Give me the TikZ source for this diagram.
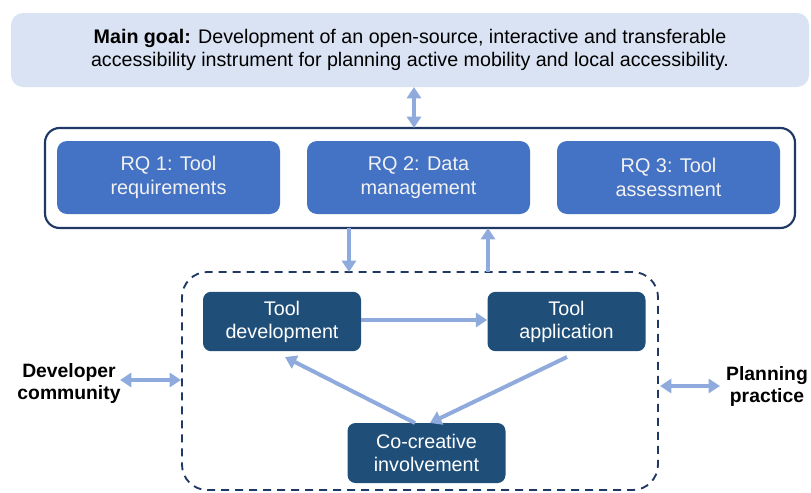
\documentclass[tikz,border=0pt]{standalone}
\usepackage{fontspec}
\setmainfont{Liberation Sans}
\usetikzlibrary{arrows.meta}
\definecolor{topfill}{HTML}{DAE3F3}
\definecolor{rqfill}{HTML}{4472C4}
\definecolor{navy}{HTML}{203864}
\definecolor{darkbox}{HTML}{1F4E79}
\definecolor{arrowc}{HTML}{8FAADC}
\definecolor{rqtext}{HTML}{F2F2F2}
\tikzset{
  goalbox/.style={fill=topfill, rounded corners=9pt, minimum width=598.5pt, minimum height=55.5pt, align=center, font=\fontsize{14.75pt}{17.25pt}\selectfont, inner sep=0pt},
  rqframe/.style={draw=navy, line width=1.6pt, rounded corners=11pt, minimum width=562.5pt, minimum height=75pt, inner sep=0pt},
  rqbox/.style={fill=rqfill, rounded corners=7.5pt, minimum width=167.25pt, minimum height=54.75pt, align=center, text=rqtext, font=\fontsize{14.9pt}{18pt}\selectfont, inner sep=0pt},
  dashframe/.style={draw=navy, line width=1.4pt, dash pattern=on 6pt off 4.5pt, rounded corners=19pt, minimum width=357pt, minimum height=163.5pt, inner sep=0pt},
  stagebox/.style={fill=darkbox, rounded corners=6pt, minimum width=118.5pt, minimum height=44.5pt, align=center, text=white, font=\fontsize{14.8pt}{17.25pt}\selectfont, inner sep=0pt},
  sidelabel/.style={align=center, font=\bfseries\fontsize{14.5pt}{16.5pt}\selectfont, inner sep=0pt},
  flow/.style={draw=arrowc, line width=3pt, -{Triangle[width=10.5pt,length=8.5pt]}},
  flowboth/.style={draw=arrowc, line width=3pt, {Triangle[width=10.5pt,length=8.5pt]}-{Triangle[width=10.5pt,length=8.5pt]}},
}
\begin{document}
\begin{tikzpicture}[x=0.75pt,y=-0.75pt]
\useasboundingbox (0,0) rectangle (811,493);
\node[goalbox] (goal) at (410,50) {\textbf{Main goal:} Development of an open-source, interactive and transferable\\accessibility instrument for planning active mobility and local accessibility.};
\node[rqframe] (frame) at (420,178) {};
\node[rqbox] (rq1) at (168.5,177.5) {RQ 1: Tool\\requirements};
\node[rqbox] (rq2) at (418.5,177.5) {RQ 2: Data\\management};
\node[rqbox] (rq3) at (668.5,177.5) {RQ 3: Tool\\assessment};
\node[dashframe] (dash) at (420,381) {};
\node[stagebox] (dev) at (282,321.5) {Tool\\development};
\node[stagebox] (app) at (566.5,321.5) {Tool\\application};
\node[stagebox, minimum height=45pt] (co) at (426.5,453) {Co-creative\\involvement};
\node[sidelabel] (devcom) at (69,383) {Developer\\community};
\node[sidelabel] (plan) at (767,386) {Planning\\practice};
% connector end points
\coordinate (gA) at (414,87);
\coordinate (gB) at (414,128);
\coordinate (dA) at (349,228);
\coordinate (dB) at (349,272);
\coordinate (uA) at (488,272);
\coordinate (uB) at (488,228);
\coordinate (coOut) at (415,423);
\coordinate (devIn) at (285,357);
\coordinate (appOut) at (567,357);
\coordinate (coIn) at (430,423);
\coordinate (lA) at (120,380);
\coordinate (lB) at (181,380);
\coordinate (rA) at (660,386);
\coordinate (rB) at (720,386);
\draw[flowboth] (gA) -- (gB);
\draw[flow] (dA) -- (dB);
\draw[flow] (uA) -- (uB);
\draw[flow] (dev.east |- 0,320) -- (app.west |- 0,320);
\draw[flow] (coOut) -- (devIn);
\draw[flow] (appOut) -- (coIn);
\draw[flowboth] (lA) -- (lB);
\draw[flowboth] (rA) -- (rB);
\end{tikzpicture}
\end{document}
